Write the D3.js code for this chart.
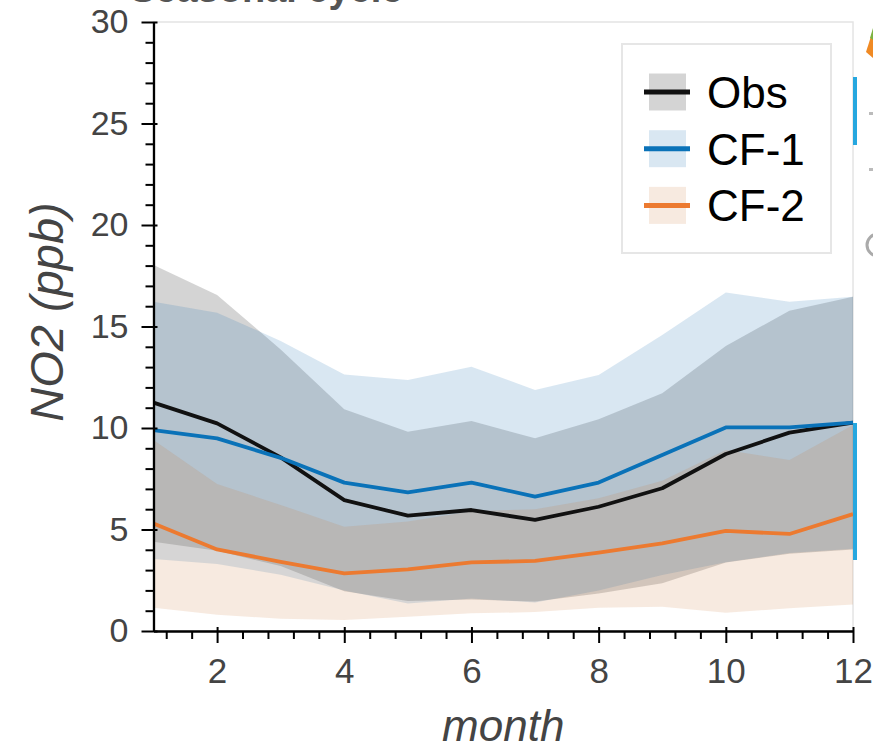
<!DOCTYPE html>
<html>
<head>
<meta charset="utf-8">
<script src="https://cdn.jsdelivr.net/npm/d3@7"></script>
<style>
  body { margin: 0; background: #fff; }
  text { font-family: "Liberation Sans", Arial, sans-serif; }
</style>
</head>
<body>
<div id="chart-area"></div>
<script>
// monthly NO2 (ppb): mean line and shaded band (lower / upper) per series
const months = [1, 2, 3, 4, 5, 6, 7, 8, 9, 10, 11, 12]

const obsMean  = [11.25, 10.23, 8.55, 6.45, 5.68, 5.96, 5.47, 6.12, 7.03, 8.72, 9.77, 10.26]
const obsUpper = [18.03, 16.55, 13.87, 10.92, 9.82, 10.34, 9.49, 10.43, 11.71, 14.04, 15.78, 16.47]
const obsLower = [4.40, 3.95, 3.20, 1.96, 1.48, 1.55, 1.45, 1.85, 2.35, 3.37, 3.80, 4.02]

const cf1Mean  = [9.90, 9.49, 8.53, 7.31, 6.83, 7.31, 6.62, 7.31, 8.67, 10.03, 10.03, 10.26]
const cf1Upper = [16.22, 15.68, 14.29, 12.64, 12.36, 13.02, 11.87, 12.61, 14.58, 16.67, 16.22, 16.47]
const cf1Lower = [3.55, 3.30, 2.77, 2.00, 1.35, 1.60, 1.40, 2.00, 2.76, 3.39, 3.84, 4.05]

const cf2Mean  = [5.30, 4.02, 3.41, 2.84, 3.04, 3.38, 3.45, 3.86, 4.32, 4.93, 4.78, 5.76]
const cf2Upper = [9.41, 7.24, 6.21, 5.14, 5.40, 5.90, 6.00, 6.54, 7.40, 8.92, 8.42, 10.15]
const cf2Lower = [1.15, 0.80, 0.60, 0.54, 0.70, 0.87, 0.93, 1.15, 1.20, 0.90, 1.12, 1.30]

const seriesNames = ["Obs", "CF-1", "CF-2"]
const yTicks = [0, 5, 10, 15, 20, 25, 30]
const xTicks = [2, 4, 6, 8, 10, 12]

const MARGIN = { LEFT: 153.5, RIGHT: 20, TOP: 22, BOTTOM: 118 }
const WIDTH = 873 - MARGIN.LEFT - MARGIN.RIGHT
const HEIGHT = 749 - MARGIN.TOP - MARGIN.BOTTOM

const series = [
    { name: seriesNames[0], mean: obsMean, lo: obsLower, hi: obsUpper, line: "#111111", band: "#6f6f6f", op: 0.3 },
    { name: seriesNames[1], mean: cf1Mean, lo: cf1Lower, hi: cf1Upper, line: "#0a72b8", band: "#1f6fb4", op: 0.17 },
    { name: seriesNames[2], mean: cf2Mean, lo: cf2Lower, hi: cf2Upper, line: "#ec7a30", band: "#c87430", op: 0.15 }
]

const svg = d3.select("#chart-area")
    .append("svg")
    .attr("width", 873)
    .attr("height", 749)

// cut-off title at the very top
svg.append("text")
    .attr("x", 130)
    .attr("y", 2)
    .attr("font-size", "38px")
    .attr("font-weight", "bold")
    .attr("fill", "#555")
    .text("Seasonal cycle")

const g = svg.append("g")
    .attr("transform", `translate(${MARGIN.LEFT}, ${MARGIN.TOP})`)

const x = d3.scaleLinear().domain([1, 12]).range([0, WIDTH])
const y = d3.scaleLinear().domain([0, 30]).range([HEIGHT, 0])

// plot frame outline
g.append("rect")
    .attr("x", 0).attr("y", 0)
    .attr("width", WIDTH).attr("height", HEIGHT)
    .attr("fill", "none")
    .attr("stroke", "#e4e4e4")
    .attr("stroke-width", 1.5)

const area = (s) => d3.area()
    .x((d, i) => x(months[i]))
    .y0((d, i) => y(s.lo[i]))
    .y1((d, i) => y(s.hi[i]))

const line = (s) => d3.line()
    .x((d, i) => x(months[i]))
    .y((d, i) => y(s.mean[i]))

series.forEach(s => {
    g.append("path")
        .datum(s.mean)
        .attr("d", area(s))
        .attr("fill", s.band)
        .attr("fill-opacity", s.op)
})

series.forEach(s => {
    g.append("path")
        .datum(s.mean)
        .attr("d", line(s))
        .attr("fill", "none")
        .attr("stroke", s.line)
        .attr("stroke-width", 3.8)
        .attr("stroke-linejoin", "round")
})

// axes
const yMinor = d3.range(0, 31, 1).filter(v => v % 5 !== 0)
const xMinor = d3.range(0, 12.01, 0.4).map(v => +v.toFixed(1)).filter(v => v >= 1 && Math.abs(v / 2 - Math.round(v / 2)) > 0.01)

const yAxis = g.append("g")
    .call(d3.axisLeft(y).tickValues(yTicks).tickSize(12).tickPadding(13).tickSizeOuter(0))
yAxis.selectAll(".tick line").attr("x1", 4)
g.append("g")
    .call(d3.axisLeft(y).tickValues(yMinor).tickSize(8).tickFormat("").tickSizeOuter(0))
    .select(".domain").remove()

const xAxis = g.append("g")
    .attr("transform", `translate(0, ${HEIGHT})`)
    .call(d3.axisBottom(x).tickValues(xTicks).tickSize(12).tickPadding(15).tickSizeOuter(0))
xAxis.selectAll(".tick line").attr("y1", -4)
g.append("g")
    .attr("transform", `translate(0, ${HEIGHT})`)
    .call(d3.axisBottom(x).tickValues(xMinor).tickSize(8).tickFormat("").tickSizeOuter(0))
    .select(".domain").remove()

g.selectAll(".domain").attr("stroke", "#000").attr("stroke-width", 2.3)
g.selectAll(".tick line").attr("stroke", "#000").attr("stroke-width", 2)
yAxis.selectAll(".tick text").attr("font-size", "34px").attr("fill", "#444")
    .attr("font-family", "Liberation Sans, Arial, sans-serif")
xAxis.selectAll(".tick text").attr("font-size", "35px").attr("fill", "#444")
    .attr("font-family", "Liberation Sans, Arial, sans-serif")

// axis labels
g.append("text")
    .attr("x", WIDTH / 2)
    .attr("y", HEIGHT + 110)
    .attr("text-anchor", "middle")
    .attr("font-size", "44px")
    .attr("font-style", "italic")
    .attr("fill", "#444")
    .text("month")

svg.append("text")
    .attr("transform", "translate(63, 312) rotate(-90)")
    .attr("text-anchor", "middle")
    .attr("font-size", "47px")
    .attr("font-style", "italic")
    .attr("fill", "#444")
    .text("NO2 (ppb)")

// legend
const legend = svg.append("g").attr("transform", "translate(622, 44)")
legend.append("rect")
    .attr("width", 209).attr("height", 209)
    .attr("fill", "#fff")
    .attr("stroke", "#e6e6e6")
    .attr("stroke-width", 2)

series.forEach((s, i) => {
    const row = legend.append("g").attr("transform", `translate(0, ${48 + i * 56.7})`)
    row.append("rect")
        .attr("x", 27).attr("y", -18.5)
        .attr("width", 37).attr("height", 37)
        .attr("fill", s.band)
        .attr("fill-opacity", s.op)
    row.append("line")
        .attr("x1", 22).attr("x2", 68)
        .attr("stroke", s.line)
        .attr("stroke-width", 5)
    row.append("text")
        .attr("x", 85)
        .attr("dy", "0.36em")
        .attr("font-size", "44px")
        .attr("fill", "#000")
        .text(s.name)
})

// toolbar remnants at the right edge
svg.append("rect").attr("x", 853).attr("y", 77).attr("width", 4).attr("height", 68).attr("fill", "#26a7df")
svg.append("rect").attr("x", 853).attr("y", 423).attr("width", 4).attr("height", 137).attr("fill", "#26a7df")
svg.append("path").attr("d", "M866,52 L873,30 L873,58 Z").attr("fill", "#f08a24")
svg.append("path").attr("d", "M870,38 L873,28 L873,40 Z").attr("fill", "#7cb342")
svg.append("rect").attr("x", 869).attr("y", 112).attr("width", 4).attr("height", 3).attr("fill", "#bbb")
svg.append("rect").attr("x", 869).attr("y", 168).attr("width", 4).attr("height", 3).attr("fill", "#bbb")
svg.append("circle").attr("cx", 878).attr("cy", 245).attr("r", 11)
    .attr("fill", "none").attr("stroke", "#aaa").attr("stroke-width", 3)
</script>
</body>
</html>
